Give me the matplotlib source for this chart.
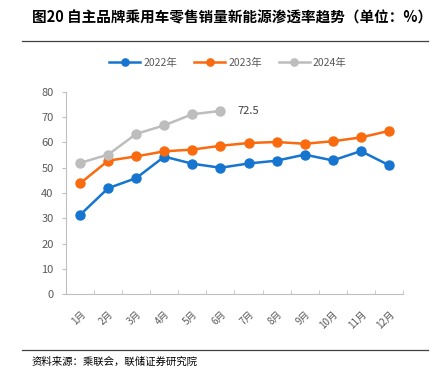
import numpy as np
import matplotlib.pyplot as plt
from matplotlib.lines import Line2D

plt.rcParams['font.family'] = ['Noto Sans CJK SC', 'DejaVu Sans']

# dados
meses = ['1月', '2月', '3月', '4月', '5月', '6月', '7月', '8月', '9月', '10月', '11月', '12月']
v2022 = [31.3, 41.9, 45.9, 54.4, 51.6, 50.0, 51.7, 52.8, 55.2, 52.9, 56.6, 51.0]
v2023 = [43.8, 52.8, 54.5, 56.5, 57.2, 58.7, 59.8, 60.2, 59.5, 60.5, 62.0, 64.6]
v2024 = [51.9, 55.2, 63.4, 66.8, 71.2, 72.5]
series = ['2022年', '2023年', '2024年']
cores = ['#1575CF', '#FA6A0F', '#BDBDBD']

fig = plt.figure(figsize=(4.35, 3.7), dpi=100)
ax = fig.add_axes([66 / 435, 76 / 370, 337 / 435, 202 / 370])

x = np.arange(1, 13)
for vals, cor, nome in zip([v2022, v2023, v2024], cores, series):
    ax.plot(x[:len(vals)], vals, color=cor, lw=1.8, marker='o', ms=6.5, label=nome)

ax.annotate(f'{v2024[-1]}', (len(v2024), v2024[-1]), xytext=(12, 0),
            textcoords='offset points', va='center', ha='left', fontsize=8, color='#404040')

ax.set_xlim(0.5, 12.5)
ax.set_ylim(0, 80)
ax.set_yticks(range(0, 81, 10))
ax.set_xticks(x)
ax.set_xticklabels(meses, rotation=45, ha='right', rotation_mode='anchor', fontsize=7, color='#595959')
ax.set_xticks(np.arange(0.5, 13, 1), minor=True)
ax.tick_params(axis='x', which='major', length=0, pad=11)
ax.tick_params(axis='x', which='minor', length=3, direction='in', color='#BFBFBF')
ax.tick_params(axis='y', length=3, color='#BFBFBF', labelsize=8, labelcolor='#595959', pad=6)
for s in ['top', 'right']:
    ax.spines[s].set_visible(False)
for s in ['left', 'bottom']:
    ax.spines[s].set_color('#BFBFBF')

ax.legend(loc='center', bbox_to_anchor=(228 / 435, 1 - 63 / 370), bbox_transform=fig.transFigure,
          ncol=3, frameon=False, fontsize=7.5, labelcolor='#595959', handlelength=3.0,
          columnspacing=1.6, handletextpad=0.3, markerscale=0.8)

# título e fonte
fig.text(32 / 435, 1 - 18 / 370, '图20 自主品牌乘用车零售销量新能源渗透率趋势（单位：%）',
         fontsize=10.5, fontweight='bold', va='center', ha='left')
fig.add_artist(Line2D([22 / 435, 428 / 435], [1 - 41 / 370] * 2, color='#404040', lw=0.9))
fig.add_artist(Line2D([22 / 435, 428 / 435], [1 - 350 / 370] * 2, color='#404040', lw=0.9))
fig.text(32 / 435, 1 - 362 / 370, '资料来源：乘联会，联储证券研究院', fontsize=7.5, va='center', ha='left')

fig.savefig('out.png', dpi=100)
